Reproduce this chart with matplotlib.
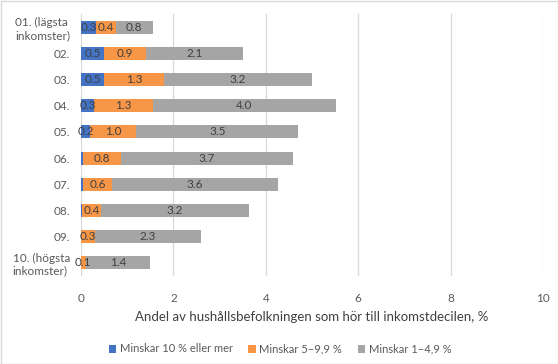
import matplotlib.pyplot as plt
import numpy as np

plt.rcParams['font.family'] = ['Lato', 'DejaVu Sans']

deciles = ["01. (lägsta\ninkomster)", "02.", "03.", "04.", "05.", "06.", "07.", "08.", "09.",
           "10. (högsta\ninkomster)"]
minus_10 = [0.33, 0.5, 0.5, 0.28, 0.2, 0.05, 0.05, 0.03, 0.0, 0.0]
minus_5_10 = [0.42, 0.9, 1.3, 1.27, 1.0, 0.82, 0.62, 0.4, 0.3, 0.1]
minus_1_5 = [0.81, 2.1, 3.2, 3.96, 3.5, 3.72, 3.6, 3.2, 2.3, 1.4]
series_names = ["Minskar 10 % eller mer", "Minskar 5–9,9 %", "Minskar 1–4,9 %"]
colors = ["#4472C4", "#F79646", "#A5A5A5"]

fig = plt.figure(figsize=(5.58, 3.64), dpi=100)
ax = fig.add_axes([81 / 558, 1 - 276 / 364, 462 / 558, 262 / 364])

y = np.arange(len(deciles))
left = np.zeros(len(deciles))
for vals, name, col in zip([minus_10, minus_5_10, minus_1_5], series_names, colors):
    vals = np.array(vals)
    ax.barh(y, vals, left=left, height=0.5, color=col, label=name, zorder=3)
    for yi, l, v in zip(y, left, vals):
        if v >= 0.1:
            ax.text(l + v / 2, yi, f"{v:.1f}", ha="center", va="center",
                    fontsize=8.5, color="#404040", zorder=4)
    left += vals

ax.set_xlim(0, 10)
ax.set_ylim(len(deciles) - 0.5, -0.5)
ax.set_xticks(range(0, 11, 2))
ax.set_yticks(y)
ax.set_yticklabels(deciles, multialignment="left")
ax.tick_params(axis="both", length=0, labelsize=8.5, colors="#595959")
ax.tick_params(axis="x", pad=12)
ax.tick_params(axis="y", pad=8)
ax.grid(axis="x", color="#D9D9D9", linewidth=0.9, zorder=0)
for s in ax.spines.values():
    s.set_visible(False)
ax.set_xlabel("Andel av hushållsbefolkningen som hör till inkomstdecilen, %",
              fontsize=9.5, color="#404040", labelpad=5)

fig.legend(loc="center", bbox_to_anchor=(280 / 558, 1 - 349 / 364), ncol=3,
           frameon=False, fontsize=8, labelcolor="#595959", handlelength=0.7,
           handleheight=0.7, handletextpad=0.3, columnspacing=1.4)

fig.patches.append(plt.Rectangle((0.5 / 558, 0.5 / 364), 1 - 1 / 558, 1 - 1 / 364,
                                 transform=fig.transFigure, fill=False,
                                 edgecolor="#D9D9D9", linewidth=1))

fig.savefig("out.png", dpi=100)
